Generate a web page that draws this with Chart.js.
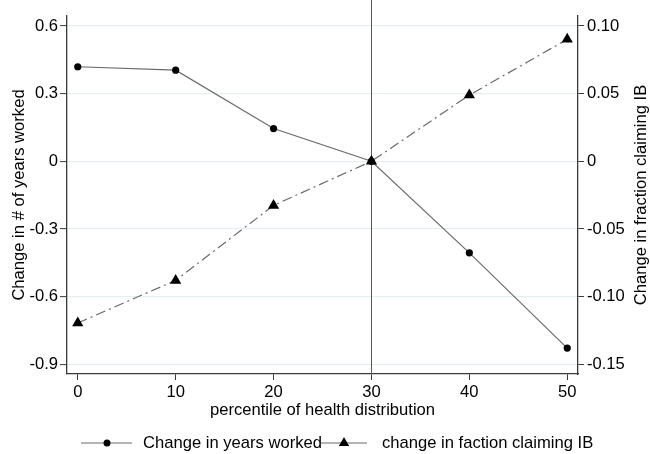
<!DOCTYPE html>
<html>
<head>
<meta charset="utf-8">
<script src="https://cdn.jsdelivr.net/npm/chart.js@4.4.1/dist/chart.umd.min.js"></script>
<style>
  html, body { margin: 0; padding: 0; background: #ffffff; }
  #c { display: block; }
</style>
</head>
<body>
<canvas id="c" width="650" height="454"></canvas>
<script>
// Percentile of the health distribution
const percentiles = [0, 10, 20, 30, 40, 50];
// Change in number of years worked (left axis)
const yearsWorked = [0.419, 0.404, 0.145, 0.0, -0.406, -0.828];
// Change in fraction claiming IB (right axis)
const fractionIB = [-0.1195, -0.088, -0.0326, 0.0, 0.0489, 0.0901];

const xTicks = [0, 10, 20, 30, 40, 50];
const leftTicks = [-0.9, -0.6, -0.3, 0, 0.3, 0.6];
const leftTickLabels = ['-0.9', '-0.6', '-0.3', '0', '0.3', '0.6'];
const rightTicks = [-0.15, -0.10, -0.05, 0, 0.05, 0.10];
const rightTickLabels = ['-0.15', '-0.10', '-0.05', '0', '0.05', '0.10'];
const referenceX = 30;

const seriesNames = ['Change in years worked', 'change in faction claiming IB'];
const axisTitles = {
  x: 'percentile of health distribution',
  left: 'Change in # of years worked',
  right: 'Change in fraction claiming IB'
};

const FONT = '"Liberation Sans", Arial, Helvetica, sans-serif';
const FONT_SIZE = 16.6;
const AXIS_COLOR = '#3a3a3a';
const GRID_COLOR = '#e6eff1';
const LINE_COLOR = '#6a6a6a';
const MARK_COLOR = '#000000';
const DASH = [10, 4, 2, 4];

function fixTicks(values) {
  return function (scale) {
    scale.ticks = values.map(v => ({ value: v }));
  };
}

const overlay = {
  id: 'overlay',
  beforeDatasetsDraw(chart) {
    const { ctx, chartArea, scales } = chart;
    const x = Math.round(scales.x.getPixelForValue(referenceX)) + 0.5;
    ctx.save();
    ctx.strokeStyle = '#5a5a5a';
    ctx.lineWidth = 1;
    ctx.beginPath();
    ctx.moveTo(x, 0);
    ctx.lineTo(x, chartArea.bottom);
    ctx.stroke();
    ctx.restore();
  },
  afterDraw(chart) {
    const { ctx, chartArea } = chart;
    ctx.save();
    ctx.fillStyle = '#000';
    ctx.font = FONT_SIZE + 'px ' + FONT;
    ctx.textBaseline = 'middle';

    // axis titles
    ctx.textAlign = 'center';
    ctx.fillText(axisTitles.x, (chartArea.left + chartArea.right) / 2, 410);
    const midY = (chartArea.top + chartArea.bottom) / 2;
    ctx.save();
    ctx.translate(19, midY);
    ctx.rotate(-Math.PI / 2);
    ctx.fillText(axisTitles.left, 0, 0);
    ctx.restore();
    ctx.save();
    ctx.translate(641, midY);
    ctx.rotate(-Math.PI / 2);
    ctx.fillText(axisTitles.right, 0, 0);
    ctx.restore();

    // legend
    const ly = 443;
    ctx.strokeStyle = LINE_COLOR;
    ctx.lineWidth = 1.2;
    ctx.beginPath();
    ctx.moveTo(81, ly); ctx.lineTo(132, ly);
    ctx.moveTo(321, ly); ctx.lineTo(367, ly);
    ctx.stroke();
    ctx.fillStyle = MARK_COLOR;
    ctx.beginPath();
    ctx.arc(107, ly, 3.5, 0, Math.PI * 2);
    ctx.fill();
    const r = 6;
    ctx.beginPath();
    ctx.moveTo(344, ly - r);
    ctx.lineTo(344 + r * 0.866, ly + r * 0.5);
    ctx.lineTo(344 - r * 0.866, ly + r * 0.5);
    ctx.closePath();
    ctx.fill();
    ctx.fillStyle = '#000';
    ctx.textAlign = 'left';
    ctx.fillText(seriesNames[0], 143, ly);
    ctx.fillText(seriesNames[1], 382, ly);
    ctx.restore();
  }
};

new Chart(document.getElementById('c'), {
  type: 'line',
  data: {
    labels: percentiles,
    datasets: [
      {
        label: seriesNames[1],
        data: percentiles.map((p, i) => ({ x: p, y: fractionIB[i] })),
        yAxisID: 'y2',
        borderColor: LINE_COLOR,
        borderWidth: 1.2,
        borderDash: DASH,
        pointStyle: 'triangle',
        pointRadius: 6.5,
        pointBackgroundColor: MARK_COLOR,
        pointBorderColor: MARK_COLOR,
        pointBorderWidth: 0,
        tension: 0,
        order: 0
      },
      {
        label: seriesNames[0],
        data: percentiles.map((p, i) => ({ x: p, y: yearsWorked[i] })),
        yAxisID: 'y',
        borderColor: LINE_COLOR,
        borderWidth: 1.2,
        pointStyle: 'circle',
        pointRadius: 3.6,
        pointBackgroundColor: MARK_COLOR,
        pointBorderColor: MARK_COLOR,
        pointBorderWidth: 0,
        tension: 0,
        order: 1
      }
    ]
  },
  options: {
    responsive: false,
    animation: false,
    devicePixelRatio: 1,
    layout: { padding: { top: 16, left: 0, right: 0, bottom: 0 } },
    plugins: {
      legend: { display: false },
      tooltip: { enabled: false }
    },
    scales: {
      x: {
        type: 'linear',
        min: -1.1,
        max: 51.1,
        afterBuildTicks: fixTicks(xTicks),
        afterFit(scale) { scale.height = 80; },
        border: { display: true, color: AXIS_COLOR, width: 1.3 },
        grid: { drawOnChartArea: false, tickLength: 6, tickColor: AXIS_COLOR, tickWidth: 1 },
        ticks: { color: '#000', font: { family: FONT, size: FONT_SIZE }, padding: 2, maxRotation: 0, autoSkip: false }
      },
      y: {
        type: 'linear',
        position: 'left',
        min: -0.943,
        max: 0.644,
        afterBuildTicks: fixTicks(leftTicks),
        afterFit(scale) { scale.width = 67; },
        border: { display: true, color: AXIS_COLOR, width: 1.3 },
        grid: { color: GRID_COLOR, lineWidth: 1.2, tickLength: 7, tickColor: AXIS_COLOR, tickWidth: 1 },
        ticks: {
          color: '#000', font: { family: FONT, size: FONT_SIZE }, padding: 2, autoSkip: false,
          callback: (v) => leftTickLabels[leftTicks.findIndex(t => Math.abs(t - v) < 1e-9)]
        }
      },
      y2: {
        type: 'linear',
        position: 'right',
        min: -0.943 / 6,
        max: 0.644 / 6,
        afterBuildTicks: fixTicks(rightTicks),
        afterFit(scale) { scale.width = 72; },
        border: { display: true, color: AXIS_COLOR, width: 1.3 },
        grid: { drawOnChartArea: false, tickLength: 6, tickColor: AXIS_COLOR, tickWidth: 1 },
        ticks: {
          color: '#000', font: { family: FONT, size: FONT_SIZE }, padding: 3, autoSkip: false,
          callback: (v) => rightTickLabels[rightTicks.findIndex(t => Math.abs(t - v) < 1e-9)]
        }
      }
    }
  },
  plugins: [overlay]
});
</script>
</body>
</html>
